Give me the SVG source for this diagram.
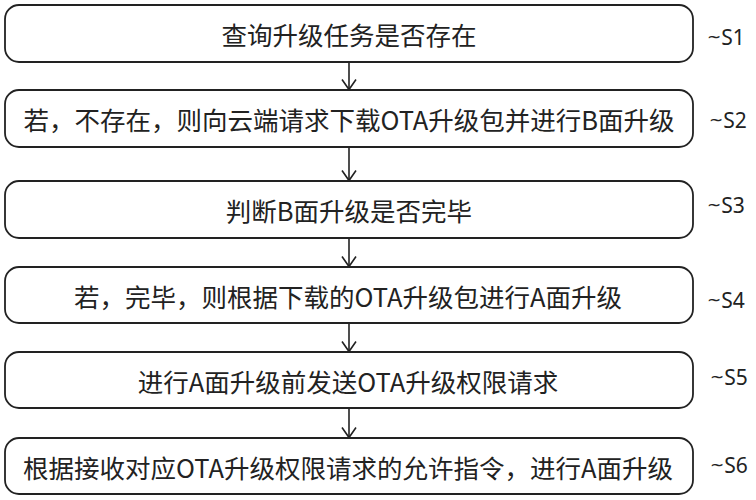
<svg xmlns="http://www.w3.org/2000/svg" width="756" height="500" viewBox="0 0 756 500">
<style>
.box{fill:#fff;stroke:#222;stroke-width:1.8}
.t{font-family:"Noto Sans CJK SC","Noto Sans",sans-serif;font-size:25.5px;fill:#222;text-anchor:middle;dominant-baseline:central}
.s{font-family:"Noto Sans","Noto Sans CJK SC",sans-serif;font-size:21px;fill:#222;dominant-baseline:central}
.tl{font-family:"DejaVu Sans",sans-serif;font-size:17px}
.c{fill:none;stroke:#222;stroke-width:1.6}
</style>
<defs>
<marker id="ah" viewBox="0 0 12 16" refX="11" refY="8" markerWidth="12" markerHeight="16" markerUnits="userSpaceOnUse" orient="auto">
<path d="M1,1 L11,8 L1,15" fill="none" stroke="#222" stroke-width="1.6"/>
</marker>
</defs>
<rect width="756" height="500" fill="#fff"/>
<g id="connectors">
<line class="c" x1="349" y1="62" x2="349" y2="89.5" marker-end="url(#ah)"/>
<line class="c" x1="349" y1="147" x2="349" y2="180.5" marker-end="url(#ah)"/>
<line class="c" x1="349" y1="238" x2="349" y2="266.5" marker-end="url(#ah)"/>
<line class="c" x1="349" y1="323" x2="349" y2="351.5" marker-end="url(#ah)"/>
<line class="c" x1="349" y1="408" x2="349" y2="437.5" marker-end="url(#ah)"/>
</g>
<g id="S1">
<rect class="box" x="5" y="5" width="688" height="57" rx="14"/>
<text class="t" x="349" y="33.5">查询升级任务是否存在</text>
<text class="s" x="707" y="37"><tspan class="tl">~</tspan>S1</text>
</g>
<g id="S2">
<rect class="box" x="5" y="90" width="688" height="57" rx="14"/>
<text class="t" x="349" y="118.5">若，不存在，则向云端请求下载OTA升级包并进行B面升级</text>
<text class="s" x="709" y="120"><tspan class="tl">~</tspan>S2</text>
</g>
<g id="S3">
<rect class="box" x="5" y="181" width="688" height="57" rx="14"/>
<text class="t" x="349" y="209.5">判断B面升级是否完毕</text>
<text class="s" x="707" y="205"><tspan class="tl">~</tspan>S3</text>
</g>
<g id="S4">
<rect class="box" x="5" y="267" width="688" height="56" rx="14"/>
<text class="t" x="348" y="295">若，完毕，则根据下载的OTA升级包进行A面升级</text>
<text class="s" x="707" y="300"><tspan class="tl">~</tspan>S4</text>
</g>
<g id="S5">
<rect class="box" x="5" y="352" width="688" height="56" rx="14"/>
<text class="t" x="348" y="380">进行A面升级前发送OTA升级权限请求</text>
<text class="s" x="710" y="377"><tspan class="tl">~</tspan>S5</text>
</g>
<g id="S6">
<rect class="box" x="5" y="438" width="688" height="56" rx="14"/>
<text class="t" x="348" y="466">根据接收对应OTA升级权限请求的允许指令，进行A面升级</text>
<text class="s" x="710" y="465"><tspan class="tl">~</tspan>S6</text>
</g>
</svg>
